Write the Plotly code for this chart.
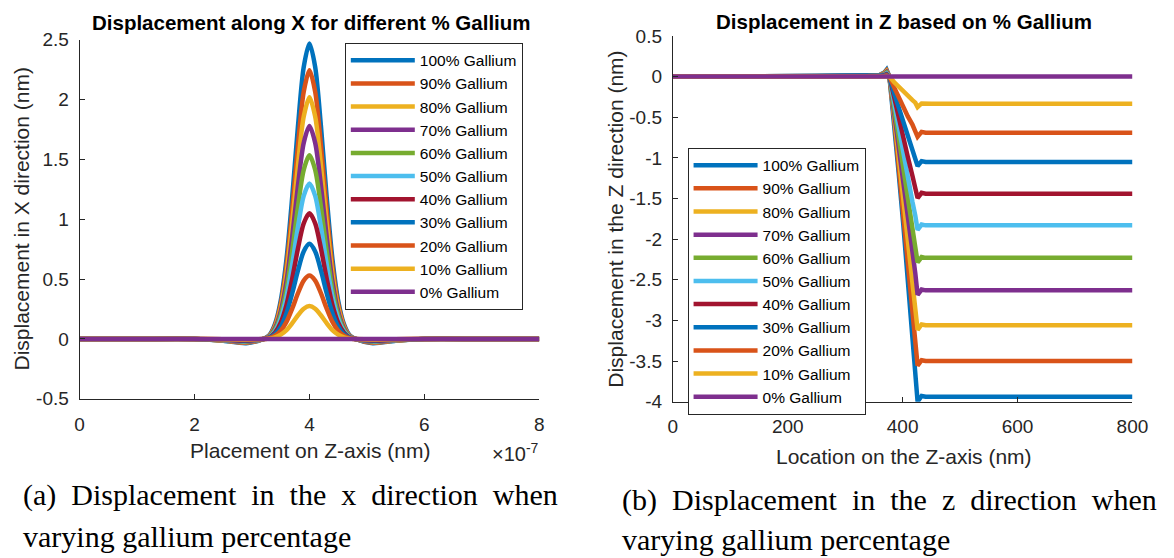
import plotly.graph_objects as go

# ---------------- data ----------------
labels = ["100% Gallium", "90% Gallium", "80% Gallium", "70% Gallium", "60% Gallium",
          "50% Gallium", "40% Gallium", "30% Gallium", "20% Gallium", "10% Gallium", "0% Gallium"]
colors = ["#0072BD", "#D95319", "#EDB120", "#7E2F8E", "#77AC30", "#4DBEEE",
          "#A2142F", "#0072BD", "#D95319", "#EDB120", "#7E2F8E"]

# Left panel: placement on Z axis (units of 1e-7), displacement along X (nm)
x_left_e7 = [0, 1, 2, 2.5, 2.9, 3.2, 3.3, 3.4, 3.5, 3.6, 3.7, 3.8, 3.9, 4.0,
             4.1, 4.2, 4.3, 4.4, 4.5, 4.6, 4.7, 4.8, 5.1, 5.5, 6, 7, 8]
dx_100 = [0, 0, 0, -0.015, -0.035, 0, 0.030, 0.124, 0.321, 0.667, 1.186, 1.778, 2.272, 2.470,
          2.272, 1.778, 1.186, 0.667, 0.321, 0.124, 0.030, 0, -0.035, -0.015, 0, 0, 0]
dx_90 = [0, 0, 0, -0.013, -0.031, 0, 0.027, 0.112, 0.292, 0.606, 1.078, 1.616, 2.065, 2.245,
         2.065, 1.616, 1.078, 0.606, 0.292, 0.112, 0.027, 0, -0.031, -0.013, 0, 0, 0]
dx_80 = [0, 0, 0, -0.012, -0.028, 0, 0.024, 0.101, 0.263, 0.545, 0.970, 1.454, 1.858, 2.020,
         1.858, 1.454, 0.970, 0.545, 0.263, 0.101, 0.024, 0, -0.028, -0.012, 0, 0, 0]
dx_70 = [0, 0, 0, -0.011, -0.025, 0, 0.021, 0.089, 0.231, 0.481, 0.854, 1.282, 1.638, 1.780,
         1.638, 1.282, 0.854, 0.481, 0.231, 0.089, 0.021, 0, -0.025, -0.011, 0, 0, 0]
dx_60 = [0, 0, 0, -0.009, -0.021, 0, 0.018, 0.077, 0.200, 0.414, 0.737, 1.105, 1.412, 1.535,
         1.412, 1.105, 0.737, 0.414, 0.200, 0.077, 0.018, 0, -0.021, -0.009, 0, 0, 0]
dx_50 = [0, 0, 0, -0.008, -0.018, 0, 0.016, 0.065, 0.169, 0.351, 0.624, 0.936, 1.196, 1.300,
         1.196, 0.936, 0.624, 0.351, 0.169, 0.065, 0.016, 0, -0.018, -0.008, 0, 0, 0]
dx_40 = [0, 0, 0, -0.006, -0.015, 0, 0.013, 0.053, 0.137, 0.284, 0.504, 0.756, 0.966, 1.050,
         0.966, 0.756, 0.504, 0.284, 0.137, 0.053, 0.013, 0, -0.015, -0.006, 0, 0, 0]
dx_30 = [0, 0, 0, -0.005, -0.011, 0, 0.010, 0.040, 0.103, 0.215, 0.382, 0.572, 0.731, 0.795,
         0.731, 0.572, 0.382, 0.215, 0.103, 0.040, 0.010, 0, -0.011, -0.005, 0, 0, 0]
dx_20 = [0, 0, 0, -0.003, -0.007, 0, 0.006, 0.027, 0.069, 0.143, 0.254, 0.382, 0.488, 0.530,
         0.488, 0.382, 0.254, 0.143, 0.069, 0.027, 0.006, 0, -0.007, -0.003, 0, 0, 0]
dx_10 = [0, 0, 0, -0.002, -0.004, 0, 0.003, 0.014, 0.036, 0.074, 0.132, 0.198, 0.253, 0.275,
         0.253, 0.198, 0.132, 0.074, 0.036, 0.014, 0.003, 0, -0.004, -0.002, 0, 0, 0]
dx_0 = [0] * 27

# Right panel: location on Z axis (nm), displacement in Z (nm)
x_right = [0, 100, 200, 250, 300, 340, 360, 368, 372, 377, 385, 393, 401, 409, 417, 422,
           426, 433, 440, 450, 500, 600, 700, 800]
dz_100 = [0, 0, 0, 0.005, 0.015, 0.010, 0.020, 0.050, 0.085, 0, -0.55, -1.18, -1.81, -2.48, -3.15, -3.55,
          -4.00, -3.93, -3.94, -3.94, -3.94, -3.94, -3.94, -3.94]
dz_90 = [0, 0, 0, 0.004, 0.013, 0.009, 0.018, 0.044, 0.075, 0, -0.51, -1.08, -1.65, -2.24, -2.83, -3.17,
         -3.555, -3.49, -3.50, -3.50, -3.50, -3.50, -3.50, -3.50]
dz_80 = [0, 0, 0, 0.004, 0.012, 0.008, 0.016, 0.039, 0.066, 0, -0.47, -0.97, -1.47, -1.99, -2.50, -2.79,
         -3.115, -3.05, -3.06, -3.06, -3.06, -3.06, -3.06, -3.06]
dz_70 = [0, 0, 0, 0.003, 0.010, 0.007, 0.013, 0.033, 0.057, 0, -0.42, -0.86, -1.30, -1.74, -2.16, -2.42,
         -2.685, -2.62, -2.63, -2.63, -2.63, -2.63, -2.63, -2.63]
dz_60 = [0, 0, 0, 0.003, 0.008, 0.006, 0.011, 0.028, 0.048, 0, -0.37, -0.75, -1.12, -1.49, -1.85, -2.07,
         -2.285, -2.22, -2.23, -2.23, -2.23, -2.23, -2.23, -2.23]
dz_50 = [0, 0, 0, 0.002, 0.007, 0.005, 0.009, 0.023, 0.039, 0, -0.32, -0.63, -0.94, -1.24, -1.54, -1.71,
         -1.885, -1.82, -1.83, -1.83, -1.83, -1.83, -1.83, -1.83]
dz_40 = [0, 0, 0, 0.002, 0.005, 0.004, 0.007, 0.018, 0.031, 0, -0.26, -0.51, -0.76, -0.99, -1.22, -1.35,
         -1.495, -1.43, -1.44, -1.44, -1.44, -1.44, -1.44, -1.44]
dz_30 = [0, 0, 0, 0.001, 0.004, 0.003, 0.005, 0.013, 0.023, 0, -0.20, -0.38, -0.56, -0.74, -0.90, -0.99,
         -1.10, -1.04, -1.05, -1.05, -1.05, -1.05, -1.05, -1.05]
dz_20 = [0, 0, 0, 0.001, 0.003, 0.002, 0.003, 0.009, 0.015, 0, -0.13, -0.26, -0.38, -0.49, -0.59, -0.66,
         -0.74, -0.68, -0.69, -0.69, -0.69, -0.69, -0.69, -0.69]
dz_10 = [0, 0, 0, 0.000, 0.001, 0.001, 0.002, 0.004, 0.007, 0, -0.067, -0.127, -0.186, -0.240, -0.290, -0.320,
         -0.375, -0.33, -0.333, -0.333, -0.333, -0.333, -0.333, -0.333]
dz_0 = [0] * 24

left_series = [dx_100, dx_90, dx_80, dx_70, dx_60, dx_50, dx_40, dx_30, dx_20, dx_10, dx_0]
right_series = [dz_100, dz_90, dz_80, dz_70, dz_60, dz_50, dz_40, dz_30, dz_20, dz_10, dz_0]

left_xticks = [0, 2, 4, 6, 8]
left_yticks = [-0.5, 0, 0.5, 1, 1.5, 2, 2.5]
right_xticks = [0, 200, 400, 600, 800]
right_yticks = [0.5, 0, -0.5, -1, -1.5, -2, -2.5, -3, -3.5, -4]

caption_a = ["(a) Displacement in the x direction when", "varying gallium percentage"]
caption_b = ["(b) Displacement in the z direction when", "varying gallium percentage"]


def fmt(v):
    return "%g" % v


def justify(s):
    # widen inter-word gaps like the justified LaTeX caption line
    return " \u00a0".join(s.split(" "))


# ---------------- figure ----------------
W, H = 1174, 558
AX = "#262626"
SANS = "Liberation Sans, Arial, sans-serif"
SERIF = "Liberation Serif, Times New Roman, serif"

fig = go.Figure()
x_left = [v * 1e-7 for v in x_left_e7]
for lab, col, ys in zip(labels, colors, left_series):
    fig.add_trace(go.Scatter(x=x_left, y=ys, mode="lines", name=lab,
                             line=dict(color=col, width=4.5, shape="spline", smoothing=0.8),
                             legend="legend", xaxis="x", yaxis="y"))
for lab, col, ys in zip(labels, colors, right_series):
    fig.add_trace(go.Scatter(x=x_right, y=ys, mode="lines", name=lab,
                             line=dict(color=col, width=4.5),
                             legend="legend2", xaxis="x2", yaxis="y2"))


def px_x(p):
    return p / W


def px_y(p):
    return 1 - p / H


axis_common = dict(showline=True, linecolor=AX, linewidth=1, ticks="inside", ticklen=5,
                   tickcolor=AX, showgrid=False, zeroline=False, mirror=False,
                   tickfont=dict(family=SANS, size=19, color=AX))

leg_common = dict(xanchor="left", yanchor="top", bgcolor="white", bordercolor=AX, borderwidth=1,
                  font=dict(family=SANS, size=15.5, color="#000000"), itemwidth=64,
                  tracegroupgap=0)

fig.update_layout(
    width=W, height=H,
    margin=dict(l=0, r=0, t=0, b=0),
    paper_bgcolor="white", plot_bgcolor="white",
    xaxis=dict(domain=[px_x(76), px_x(544)], range=[0, 8e-7], anchor="y",
               tickvals=[v * 1e-7 for v in left_xticks], ticktext=[fmt(v) for v in left_xticks],
               ticklabelstandoff=8, **axis_common),
    yaxis=dict(domain=[px_y(404), px_y(31)], range=[-0.5, 2.5], anchor="x",
               tickvals=left_yticks, ticktext=[fmt(v) for v in left_yticks],
               ticklabelstandoff=6, **axis_common),
    xaxis2=dict(domain=[px_x(680), px_x(1148)], range=[0, 800], anchor="y2",
                tickvals=right_xticks, ticktext=[fmt(v) for v in right_xticks],
                ticklabelstandoff=8, **axis_common),
    yaxis2=dict(domain=[px_y(407), px_y(27)], range=[-4, 0.5], anchor="x2",
                tickvals=right_yticks, ticktext=[fmt(v) for v in right_yticks],
                ticklabelstandoff=6, **axis_common),
    legend=dict(x=px_x(346), y=px_y(34), **leg_common),
    legend2=dict(x=px_x(695), y=px_y(143), **leg_common),
)

ann = []
# titles
ann.append(dict(text="<b>Displacement along X for different % Gallium</b>", x=px_x(312), y=px_y(13),
                font=dict(family=SANS, size=20.5, color="#000000")))
ann.append(dict(text="<b>Displacement in Z based on % Gallium</b>", x=px_x(915), y=px_y(12),
                font=dict(family=SANS, size=20.5, color="#000000")))
# axis labels
ann.append(dict(text="Placement on Z-axis (nm)", x=px_x(311), y=px_y(458),
                font=dict(family=SANS, size=21, color=AX)))
ann.append(dict(text="Location on the Z-axis (nm)", x=px_x(915), y=px_y(464),
                font=dict(family=SANS, size=21, color=AX)))
ann.append(dict(text="Displacement in X direction (nm)", x=px_x(17), y=px_y(217), textangle=-90,
                font=dict(family=SANS, size=21, color=AX)))
ann.append(dict(text="Displacement in the Z direction (nm)", x=px_x(622), y=px_y(217), textangle=-90,
                font=dict(family=SANS, size=21, color=AX)))
ann.append(dict(text="×10<sup>-7</sup>", x=px_x(546), y=px_y(460), xanchor="right",
                font=dict(family=SANS, size=20, color=AX)))
# captions
ann.append(dict(text=justify(caption_a[0]), x=px_x(16), y=px_y(504), xanchor="left",
                font=dict(family=SERIF, size=30, color="#000000")))
ann.append(dict(text=caption_a[1], x=px_x(16), y=px_y(547), xanchor="left",
                font=dict(family=SERIF, size=30, color="#000000")))
ann.append(dict(text=justify(caption_b[0]), x=px_x(626), y=px_y(509), xanchor="left",
                font=dict(family=SERIF, size=30, color="#000000")))
ann.append(dict(text=caption_b[1], x=px_x(626), y=px_y(550), xanchor="left",
                font=dict(family=SERIF, size=30, color="#000000")))

for a in ann:
    a.setdefault("xanchor", "center")
    a.update(xref="paper", yref="paper", yanchor="middle", showarrow=False)
fig.update_layout(annotations=ann)

fig.write_html("out.html")
